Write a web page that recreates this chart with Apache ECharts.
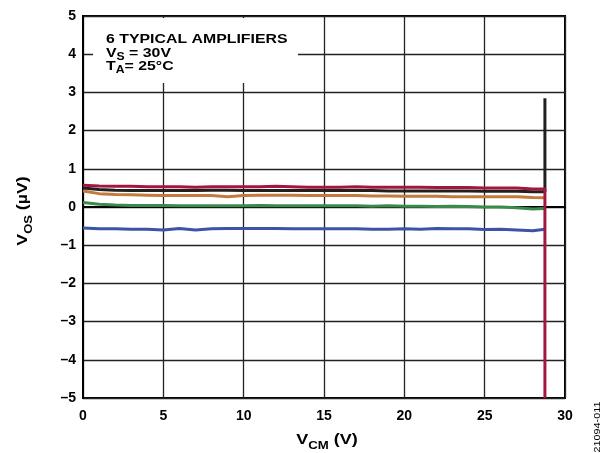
<!DOCTYPE html>
<html>
<head>
<meta charset="utf-8">
<script src="https://cdn.jsdelivr.net/npm/echarts@6/dist/echarts.min.js"></script>
<style>
  html, body { margin: 0; padding: 0; background: #fff; }
  #grafico { width: 607px; height: 453px; }
</style>
</head>
<body>
<div id="grafico"></div>
<script>
// common-mode voltage (V)
var vcm = [0, 1, 2, 3, 4, 5, 6, 7, 8, 9, 10, 11, 12, 13, 14, 15, 16, 17, 18, 19, 20, 21, 22, 23, 24, 25, 26, 27, 28, 28.75];

// offset voltage per amplifier (uV)
var vosBlue   = [-0.55, -0.57, -0.57, -0.58, -0.58, -0.6, -0.56, -0.6, -0.57, -0.56, -0.56, -0.56, -0.56, -0.57, -0.57, -0.57, -0.57, -0.57, -0.58, -0.58, -0.57, -0.58, -0.56, -0.57, -0.57, -0.59, -0.58, -0.6, -0.62, -0.58];
var vosGreen  = [0.12, 0.07, 0.05, 0.04, 0.04, 0.04, 0.03, 0.03, 0.03, 0.03, 0.03, 0.04, 0.03, 0.03, 0.03, 0.03, 0.03, 0.03, 0.02, 0.03, 0.02, 0.02, 0.01, 0.02, 0.01, 0.0, 0.0, -0.02, -0.05, -0.04];
var vosOrange = [0.42, 0.35, 0.33, 0.32, 0.31, 0.3, 0.3, 0.3, 0.3, 0.27, 0.3, 0.31, 0.31, 0.31, 0.3, 0.3, 0.3, 0.3, 0.29, 0.29, 0.28, 0.28, 0.28, 0.27, 0.27, 0.27, 0.27, 0.27, 0.25, 0.24];
var vosBlack  = [0.5, 0.46, 0.44, 0.43, 0.43, 0.43, 0.43, 0.43, 0.44, 0.44, 0.43, 0.43, 0.43, 0.43, 0.43, 0.43, 0.43, 0.43, 0.43, 0.42, 0.42, 0.42, 0.42, 0.42, 0.42, 0.41, 0.41, 0.41, 0.4, 0.4];
var vosRed    = [0.57, 0.55, 0.54, 0.54, 0.53, 0.53, 0.53, 0.52, 0.53, 0.53, 0.53, 0.53, 0.54, 0.53, 0.52, 0.52, 0.52, 0.53, 0.52, 0.52, 0.52, 0.52, 0.51, 0.51, 0.51, 0.5, 0.5, 0.5, 0.47, 0.47];

// end of the range: black jumps up, red drops to the bottom
var blackTail = [28.75, 2.85];
var redTail   = [28.75, -5];

var xTicks = [0, 5, 10, 15, 20, 25, 30];
var yTicks = [-5, -4, -3, -2, -1, 0, 1, 2, 3, 4, 5];

function pares(ys, tail) {
    var out = [];
    for (var i = 0; i < vcm.length; i++) {
        out.push([vcm[i], ys[i]]);
    }
    if (tail) out.push(tail);
    return out;
}

var myChart = echarts.init(document.getElementById('grafico'));

var fonte = 'Liberation Sans, Arial, sans-serif';

function serie(name, ys, cor, tail) {
    return {
        name: name,
        type: 'line',
        showSymbol: false,
        animation: false,
        lineStyle: { color: cor, width: 3 },
        itemStyle: { color: cor },
        data: pares(ys, tail)
    };
}

// rich styles for text with subscripts
function ricoTexto(tam, sub, desce) {
    return {
        a: { fontFamily: fonte, fontWeight: 'bold', fontSize: tam, lineHeight: tam + 2, verticalAlign: 'bottom', fill: '#000' },
        s: { fontFamily: fonte, fontWeight: 'bold', fontSize: sub, lineHeight: tam + 2, verticalAlign: 'bottom', padding: [0, 0, -desce, 0], fill: '#000' }
    };
}

function linhaCaixa(texto, topo) {
    return {
        type: 'text', z: 101, x: 106, y: topo, scaleX: 1.22,
        style: {
            text: texto, align: 'left', verticalAlign: 'top',
            rich: ricoTexto(13, 10, 2)
        }
    };
}

var option = {
    animation: false,
    grid: {
        left: 83, right: 42, top: 16, bottom: 55,
        show: true, borderColor: '#000', borderWidth: 2
    },
    xAxis: {
        type: 'value',
        min: 0, max: 30, interval: 5,
        axisLine: { show: true, lineStyle: { color: '#000', width: 2 } },
        axisTick: { show: false },
        axisLabel: {
            color: '#000', fontFamily: fonte, fontWeight: 'bold', fontSize: 14, margin: 11,
            formatter: function (v) { return xTicks.indexOf(v) >= 0 ? String(v) : ''; }
        },
        splitLine: { show: true, lineStyle: { color: '#222', width: 1.3 } }
    },
    yAxis: {
        type: 'value',
        min: -5, max: 5, interval: 1,
        axisLine: { show: true, lineStyle: { color: '#000', width: 2 } },
        axisTick: { show: false },
        axisLabel: {
            color: '#000', fontFamily: fonte, fontWeight: 'bold', fontSize: 14, margin: 7,
            formatter: function (v) {
                if (yTicks.indexOf(v) < 0) return '';
                return v < 0 ? '\u2013' + Math.abs(v) : String(v);
            }
        },
        splitLine: { show: true, lineStyle: { color: '#222', width: 1.3 } }
    },
    series: [
        serie('amp1', vosBlue, '#3a55a8'),
        serie('amp2', vosGreen, '#3b8a4c'),
        serie('amp3', vosOrange, '#c47a3c'),
        serie('amp4', vosBlack, '#231f20', blackTail),
        serie('amp5', vosRed, '#a3173f', redTail)
    ],
    graphic: [
        {
            type: 'rect', z: 100,
            shape: { x: 93, y: 18, width: 205, height: 65 },
            style: { fill: '#fff' }
        },
        linhaCaixa('{a|6 TYPICAL AMPLIFIERS}', 31),
        linhaCaixa('{a|V}{s|S}{a| = 30V}', 45),
        linhaCaixa('{a|T}{s|A}{a|= 25°C}', 58),
        {
            // x axis title
            type: 'text', z: 101, x: 327, y: 439, scaleX: 1.2,
            style: {
                text: '{a|V}{s|CM}{a| (V)}', align: 'center', verticalAlign: 'middle',
                rich: ricoTexto(15, 11, 4)
            }
        },
        {
            // y axis title
            type: 'text', z: 101, x: 22, y: 211, rotation: Math.PI / 2, scaleX: 1.18,
            style: {
                text: '{a|V}{s|OS}{a| (µV)}', align: 'center', verticalAlign: 'middle',
                rich: ricoTexto(15, 11, 4)
            }
        },
        {
            type: 'text', z: 101, x: 598, y: 427, rotation: Math.PI / 2, scaleX: 1.2,
            style: { text: '21094-011', align: 'center', verticalAlign: 'middle', fontFamily: fonte, fontSize: 9, fill: '#000' }
        }
    ]
};

myChart.setOption(option);
</script>
</body>
</html>
